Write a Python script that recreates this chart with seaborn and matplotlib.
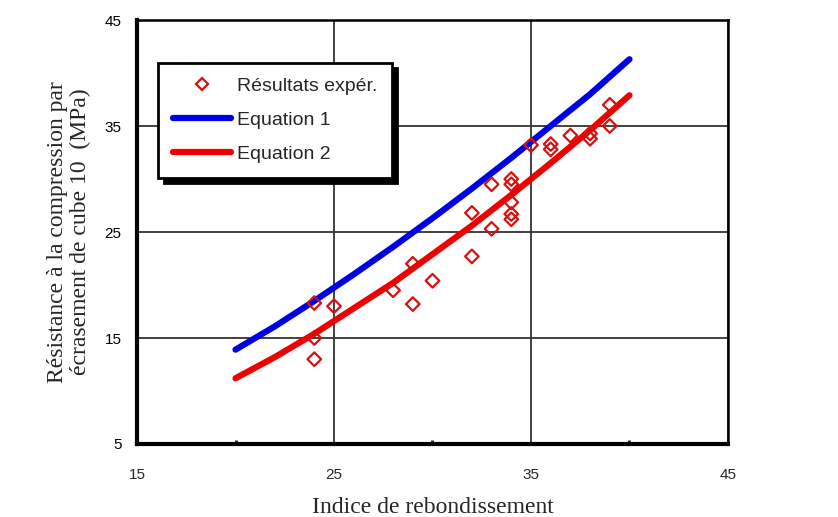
import numpy as np
import pandas as pd
import matplotlib
matplotlib.use("Agg")
import matplotlib.pyplot as plt
import seaborn as sns
from matplotlib.lines import Line2D

# experimental points (rebound index, strength MPa)
exp_x = [24, 24, 24, 25, 28, 29, 29, 30, 32, 32, 33, 33, 34, 34, 34, 34, 34,
         35, 36, 36, 37, 38, 38, 39, 39]
exp_y = [18.3, 15.0, 13.0, 18.0, 19.5, 22.0, 18.2, 20.4, 22.7, 26.8, 25.3, 29.5,
         30.0, 29.5, 27.8, 26.7, 26.2, 33.2, 33.3, 32.8, 34.1, 34.3, 33.8, 35.0, 37.0]

# curves
eq_x = [20, 22, 24, 26, 28, 30, 32, 34, 36, 38, 40]
eq1_y = [13.9, 16.1, 18.5, 21.0, 23.6, 26.3, 29.1, 32.0, 35.0, 38.0, 41.3]
eq2_y = [11.2, 13.2, 15.4, 17.8, 20.2, 22.9, 25.6, 28.5, 31.5, 34.6, 37.9]

sns.set_style("white")
plt.rcParams['font.family'] = ['Liberation Sans', 'DejaVu Sans']

fig = plt.figure(figsize=(8.38, 5.17), dpi=100)
ax = fig.add_axes([0.1635, 0.1412, 0.7052, 0.8201])

pts = pd.DataFrame({'x': exp_x, 'y': exp_y})
curves = pd.DataFrame({'x': eq_x, 'eq1': eq1_y, 'eq2': eq2_y})

sns.lineplot(data=curves, x='x', y='eq1', ax=ax, color='#0000e6', lw=4.5, zorder=3)
sns.lineplot(data=curves, x='x', y='eq2', ax=ax, color='#f00000', lw=4.5, zorder=3)
sns.scatterplot(data=pts, x='x', y='y', ax=ax, marker='D', s=48,
                facecolor='none', edgecolor='#d81010', linewidth=1.6, zorder=4)

ax.set_xlim(15, 45)
ax.set_ylim(5, 45)
ax.set_xticks([15, 25, 35, 45])
ax.set_yticks([5, 15, 25, 35, 45])
ax.set_xticks([20, 30, 40], minor=True)
ax.grid(True, which='major', color='#333333', lw=1.3)
ax.set_axisbelow(True)

for side in ['left', 'bottom']:
    ax.spines[side].set_linewidth(3)
for side in ['top', 'right']:
    ax.spines[side].set_linewidth(1.8)
for sp in ax.spines.values():
    sp.set_color('black')

ax.tick_params(axis='y', which='major', direction='out', length=3, width=2,
               labelsize=11, pad=8, colors='black')
ax.tick_params(axis='x', which='major', direction='in', length=0,
               labelsize=11, pad=17)
ax.tick_params(axis='x', which='minor', direction='in', length=3, width=2,
               bottom=True)

ax.set_xlabel('Indice de rebondissement', family=['Liberation Serif'],
              fontsize=17, labelpad=11)
ax.set_ylabel('Résistance à la compression par\nécrasement de cube 10  (MPa)',
              family=['Liberation Serif'], fontsize=17, labelpad=10,
              linespacing=1.1)

handles = [
    Line2D([], [], marker='D', ls='none', markerfacecolor='none',
           markeredgecolor='#d81010', markeredgewidth=1.6, markersize=6.5),
    Line2D([], [], color='#0000e6', lw=4.5),
    Line2D([], [], color='#f00000', lw=4.5),
]
labels = ['Résultats expér.', 'Equation 1', 'Equation 2']
leg = ax.legend(handles, labels, loc='upper left', bbox_to_anchor=(0.0355, 0.899),
                borderaxespad=0, fontsize=14, frameon=True, fancybox=False,
                handlelength=3.0, handletextpad=0.3, borderpad=0.75,
                labelspacing=0.85,
                shadow={'color': 'black', 'alpha': 1, 'ox': 4, 'oy': -4})
leg.get_frame().set_edgecolor('black')
leg.get_frame().set_linewidth(2)
leg.get_frame().set_facecolor('white')
leg.get_frame().set_alpha(1)

fig.savefig('out.png', dpi=100)
